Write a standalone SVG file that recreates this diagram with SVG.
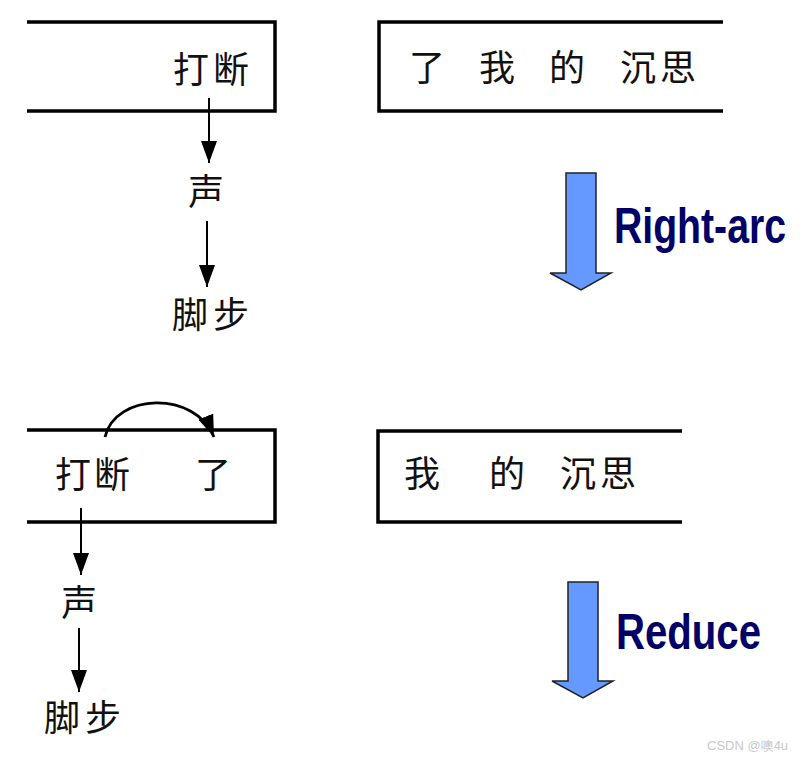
<svg xmlns="http://www.w3.org/2000/svg" width="806" height="760" viewBox="0 0 806 760">
<style>
.box{fill:none;stroke:#000;stroke-width:3.5}
.cjk{font-family:"Noto Sans CJK SC","Noto Sans CJK JP",sans-serif;font-size:36px;fill:#111;text-anchor:middle;dominant-baseline:central}
.dep{stroke:#000;stroke-width:2;fill:none}
.arc{stroke:#000;stroke-width:2.8;fill:none}
.big{fill:#6699FF;stroke:#222;stroke-width:1.5}
.lab{font-family:"Liberation Sans",Arial,sans-serif;font-weight:bold;font-size:50px;fill:#000066}
.wm{font-family:"Liberation Sans",Arial,sans-serif;font-size:13px;fill:#c8c8c8}
</style>
<defs>
<marker id="ad" viewBox="0 0 22 16" refX="22" refY="8" markerWidth="22" markerHeight="16" markerUnits="userSpaceOnUse" orient="auto">
<path d="M0,0 L22,8 L0,16 z" fill="#000"/>
</marker>
</defs>

<g id="stack1">
<path class="box" d="M27,22 H275 V111 H27"/>
<text class="cjk" x="191" y="67">打</text>
<text class="cjk" x="231" y="67">断</text>
</g>
<g id="node-sheng1"><text class="cjk" x="206" y="189">声</text></g>
<g id="node-jiaobu1"><text class="cjk" x="190" y="312">脚</text><text class="cjk" x="231" y="312">步</text></g>
<g id="buffer1">
<path class="box" d="M723,22 H379 V111 H723"/>
<text class="cjk" x="427" y="65">了</text>
<text class="cjk" x="497" y="65">我</text>
<text class="cjk" x="567" y="65">的</text>
<text class="cjk" x="638" y="65">沉</text>
<text class="cjk" x="678" y="65">思</text>
</g>

<g id="stack2">
<path class="box" d="M27,430 H275 V522 H27"/>
<text class="cjk" x="73" y="472">打</text>
<text class="cjk" x="112" y="472">断</text>
<text class="cjk" x="213" y="472">了</text>
</g>
<g id="node-sheng2"><text class="cjk" x="79" y="600">声</text></g>
<g id="node-jiaobu2"><text class="cjk" x="62" y="715">脚</text><text class="cjk" x="103" y="715">步</text></g>
<g id="buffer2">
<path class="box" d="M682,431 H378 V522 H682"/>
<text class="cjk" x="422" y="471">我</text>
<text class="cjk" x="507" y="471">的</text>
<text class="cjk" x="578" y="471">沉</text>
<text class="cjk" x="618" y="471">思</text>
</g>

<g id="transition1">
<path class="big" d="M566,173 H596 V273 H611 L581,290 L550,273 H566 Z"/>
<text class="lab" x="614" y="243" textLength="172" lengthAdjust="spacingAndGlyphs">Right-arc</text>
</g>
<g id="transition2">
<path class="big" d="M568,582 H598 V681 H613 L583,698 L552,681 H568 Z"/>
<text class="lab" x="616" y="649" textLength="145" lengthAdjust="spacingAndGlyphs">Reduce</text>
</g>

<g id="connectors">
<line class="dep" x1="209" y1="98" x2="209" y2="163" marker-end="url(#ad)"/>
<line class="dep" x1="207" y1="221" x2="207" y2="287" marker-end="url(#ad)"/>
<line class="dep" x1="81" y1="508" x2="81" y2="575" marker-end="url(#ad)"/>
<line class="dep" x1="79" y1="628" x2="79" y2="692" marker-end="url(#ad)"/>
<path class="arc" d="M105,437 C115,393 195,390 214,437" marker-end="url(#ad)"/>
</g>

<text class="wm" x="707" y="750">CSDN @噢4u</text>
</svg>
